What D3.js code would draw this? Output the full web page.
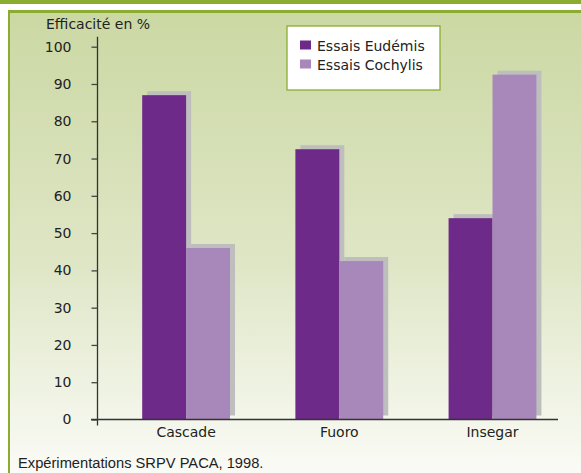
<!DOCTYPE html>
<html>
<head>
<meta charset="utf-8">
<script src="https://cdn.jsdelivr.net/npm/d3@7"></script>
<style>
  body { margin: 0; background: #fff; }
  svg { display: block; }
  text { font-family: "DejaVu Sans", sans-serif; fill: #222; }
</style>
</head>
<body>
<div id="chart"></div>
<script>
var categories = ["Cascade", "Fuoro", "Insegar"];
var seriesNames = ["Essais Eudémis", "Essais Cochylis"];
var eudemis = [87, 72.5, 54];
var cochylis = [46, 42.5, 92.5];
var yTicks = [0, 10, 20, 30, 40, 50, 60, 70, 80, 90, 100];

var colors = ["#6e2a89", "#a888ba"];
var width = 581, height = 473;
var labelFont = "14px";

var svg = d3.select("#chart").append("svg")
    .attr("width", width)
    .attr("height", height);

// background gradient panel
var grad = svg.append("defs").append("linearGradient")
    .attr("id", "bg").attr("x1", 0).attr("y1", 0).attr("x2", 0).attr("y2", 1);
grad.append("stop").attr("offset", "0%").attr("stop-color", "#cbd8a3");
grad.append("stop").attr("offset", "55%").attr("stop-color", "#dfe6c6");
grad.append("stop").attr("offset", "100%").attr("stop-color", "#fafbf6");

svg.append("rect").attr("x", 0).attr("y", 0).attr("width", width).attr("height", 4).attr("fill", "#8aad30");
svg.append("rect").attr("x", 8).attr("y", 10).attr("width", width - 8).attr("height", height - 10).attr("fill", "url(#bg)");
svg.append("rect").attr("x", 8).attr("y", 10).attr("width", width - 8).attr("height", 3).attr("fill", "#8aad30");
svg.append("rect").attr("x", 8).attr("y", 10).attr("width", 2).attr("height", height - 10).attr("fill", "#8aad30");

// scales
var y = d3.scaleLinear().domain([0, 100]).range([419.5, 46.7]);
var x = d3.scaleBand().domain(categories)
    .range([109.5, 569.1])
    .paddingInner(0.4267)
    .paddingOuter(0.2134);
var xs = d3.scaleBand().domain(seriesNames).range([0, x.bandwidth()]);

var rows = categories.map(function (c, i) {
    return [
        { cat: c, name: seriesNames[0], value: eudemis[i] },
        { cat: c, name: seriesNames[1], value: cochylis[i] }
    ];
});
var flat = d3.merge(rows);

// shadows first
svg.append("g").selectAll("rect")
    .data(flat)
    .enter()
    .append("rect")
    .attr("x", function (d) { return x(d.cat) + xs(d.name) + 5; })
    .attr("y", function (d) { return y(d.value) - 4; })
    .attr("width", xs.bandwidth())
    .attr("height", function (d) { return y(0) - y(d.value); })
    .attr("fill", "#bdbebd");

svg.append("g").selectAll("rect")
    .data(flat)
    .enter()
    .append("rect")
    .attr("x", function (d) { return x(d.cat) + xs(d.name); })
    .attr("y", function (d) { return y(d.value); })
    .attr("width", xs.bandwidth())
    .attr("height", function (d) { return y(0) - y(d.value); })
    .attr("fill", function (d) { return colors[seriesNames.indexOf(d.name)]; });

// y axis
var yAxis = svg.append("g")
    .attr("transform", "translate(97.5,0)")
    .call(d3.axisLeft(y).tickValues(yTicks).tickSize(6).tickPadding(20));
yAxis.select(".domain").attr("d", "M0," + (y(100) - 10) + "V" + (y(0) + 6)).attr("stroke", "#333").attr("stroke-width", 1.3);
yAxis.selectAll(".tick line").attr("stroke", "#444").attr("stroke-width", 1.3);
yAxis.selectAll(".tick text")
    .style("font-family", "'DejaVu Sans', sans-serif")
    .style("font-size", labelFont)
    .attr("fill", "#222");

// x axis
var xAxis = svg.append("g")
    .attr("transform", "translate(0," + y(0) + ")")
    .call(d3.axisBottom(x).tickSize(0).tickPadding(8));
xAxis.select(".domain").attr("d", "M91,0H558").attr("stroke", "#333").attr("stroke-width", 1.6);
xAxis.selectAll(".tick text")
    .style("font-family", "'DejaVu Sans', sans-serif")
    .style("font-size", labelFont)
    .attr("fill", "#222");

// title
svg.append("text")
    .attr("x", 46).attr("y", 29)
    .style("font-size", labelFont)
    .text("Efficacité en %");

// legend
var legend = svg.append("g");
legend.append("rect")
    .attr("x", 287).attr("y", 26)
    .attr("width", 153).attr("height", 64)
    .attr("fill", "#fff").attr("stroke", "#8aad30").attr("stroke-width", 1.3);
var items = legend.selectAll("g.item")
    .data(seriesNames)
    .enter()
    .append("g")
    .attr("class", "item")
    .attr("transform", function (d, i) { return "translate(300," + (40.5 + i * 19) + ")"; });
items.append("rect")
    .attr("width", 11).attr("height", 9)
    .attr("fill", function (d, i) { return colors[i]; });
items.append("text")
    .attr("x", 17).attr("y", 10)
    .style("font-size", labelFont)
    .text(function (d) { return d; });

// source
svg.append("text")
    .attr("x", 18).attr("y", 467.5)
    .style("font-family", "'Liberation Sans Narrow', 'Liberation Sans', sans-serif")
    .style("font-size", "14.7px")
    .attr("fill", "#333")
    .text("Expérimentations SRPV PACA, 1998.");
</script>
</body>
</html>
